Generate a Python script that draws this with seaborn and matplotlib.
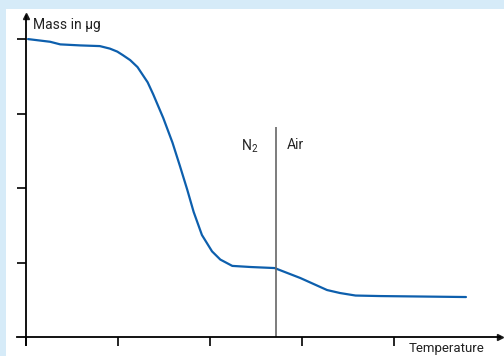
import seaborn as sns
import pandas as pd
import matplotlib.pyplot as plt
from matplotlib.patches import Rectangle

# TGA curve (temperature in tick units, mass in tick units)
temperature = [0.02, 0.26, 0.37, 0.59, 0.80, 0.91, 0.99, 1.05, 1.13, 1.21, 1.32, 1.38,
               1.49, 1.59, 1.67, 1.75, 1.82, 1.91, 2.02, 2.11, 2.24, 2.44, 2.70, 2.98,
               3.27, 3.41, 3.58, 3.85, 4.28, 4.78]
mass = [4.00, 3.964, 3.929, 3.915, 3.906, 3.872, 3.832, 3.785, 3.718, 3.624, 3.42, 3.26,
        2.94, 2.61, 2.30, 1.98, 1.68, 1.37, 1.15, 1.04, 0.955, 0.940, 0.926, 0.792,
        0.631, 0.591, 0.557, 0.550, 0.544, 0.537]
x_ticks = [0, 1, 2, 3, 4]
y_ticks = [1, 2, 3, 4]
switch_at = 2.71      # N2 -> Air
switch_top = 2.82

df = pd.DataFrame({"temperature": temperature, "mass": mass})

sns.set_theme(style="white")
plt.rcParams["font.family"] = ["Roboto", "DejaVu Sans"]
plt.rcParams["mathtext.default"] = "regular"

fig = plt.figure(figsize=(5.04, 3.56), dpi=100)
fig.patch.set_facecolor("#d6ebf8")
fig.patches.append(Rectangle((6 / 504, 0), 1, (356 - 9) / 356, transform=fig.transFigure,
                             facecolor="white", edgecolor="none", zorder=-5))

ax = fig.add_axes([17 / 504, 11 / 356, 483 / 504, 329 / 356])
ax.set_facecolor("none")
ax.set_xlim(-0.1, 5.15)
ax.set_ylim(-0.107, 4.31)

sns.lineplot(data=df, x="temperature", y="mass", ax=ax, color="#0d5fad",
             linewidth=1.6, sort=False)

ax.vlines(switch_at, 0, switch_top, color="#666666", linewidth=1.2)

# axes through the origin with arrow heads
for s in ["top", "right"]:
    ax.spines[s].set_visible(False)
ax.spines["left"].set_position(("data", 0))
ax.spines["bottom"].set_position(("data", 0))
for s in ["left", "bottom"]:
    ax.spines[s].set_color("black")
    ax.spines[s].set_linewidth(1.3)
ax.plot(1, 0, ">k", markersize=5, transform=ax.get_yaxis_transform(), clip_on=False)
ax.plot(0, 1, "^k", markersize=5, transform=ax.get_xaxis_transform(), clip_on=False)

ax.set_xticks(x_ticks)
ax.set_yticks(y_ticks)
ax.set_xticklabels([])
ax.set_yticklabels([])
ax.tick_params(axis="both", direction="out", length=6.5, width=1.2, color="black",
               bottom=True, left=True)
ax.set_xlabel("")
ax.set_ylabel("")

ax.text(0.076, 4.19, "Mass in µg", fontsize=10, ha="left", va="center", color="#222222")
ax.text(4.57, -0.16, "Temperature", fontsize=9.5, ha="center", va="center", color="#222222")
ax.text(2.43, 2.56, "N$_2$", fontsize=10, ha="center", va="center", color="#222222")
ax.text(2.93, 2.58, "Air", fontsize=10, ha="center", va="center", color="#222222")

fig.savefig("out.png", dpi=100)
